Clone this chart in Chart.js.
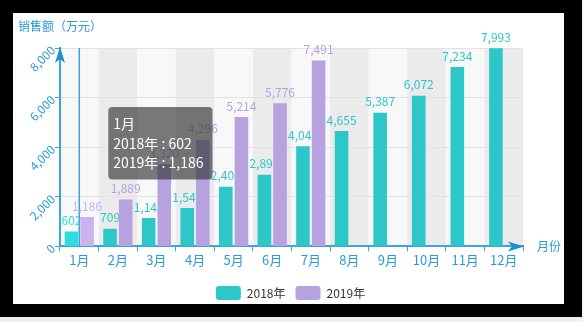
<!DOCTYPE html>
<html>
<head>
<meta charset="utf-8">
<script src="https://cdn.jsdelivr.net/npm/chart.js@4"></script>
<style>
  html, body { margin: 0; padding: 0; background: #f0f0f0; }
  #frame { position: absolute; left: 0; top: 0; width: 582px; height: 317px; background: #000; }
  #box { position: absolute; left: 13px; top: 13px; width: 551px; height: 291px; background: #fff; }
  canvas { display: block; }
</style>
</head>
<body>
<div id="frame"><div id="box"><canvas id="chart" width="551" height="291"></canvas></div></div>
<script>
const months = ['1月', '2月', '3月', '4月', '5月', '6月', '7月', '8月', '9月', '10月', '11月', '12月'];
const sales2018 = [602, 709, 1145, 1547, 2404, 2891, 4043, 4655, 5387, 6072, 7234, 7993];
const sales2019 = [1186, 1889, 3320, 4296, 5214, 5776, 7491, null, null, null, null, null];
const yTicks = [0, 2000, 4000, 6000, 8000];

const blue = '#2a9ad9';
const axisLine = '#3ea3de';
Chart.defaults.font.family = '"Microsoft YaHei", "Noto Sans CJK SC", sans-serif';

// striped background, one band per month
const bands = {
  id: 'bands',
  beforeDraw(chart) {
    const { ctx, chartArea: a, scales: { x } } = chart;
    const w = (a.right - a.left) / months.length;
    ctx.save();
    months.forEach((m, i) => {
      const cx = x.getPixelForValue(i);
      ctx.fillStyle = i % 2 ? '#ebebeb' : '#f8f8f8';
      ctx.fillRect(cx - w / 2, a.top, w, a.bottom - a.top);
    });
    ctx.restore();
  }
};

function drawValues(chart, dsIndex) {
  const { ctx } = chart;
  const ds = chart.data.datasets[dsIndex];
  const meta = chart.getDatasetMeta(dsIndex);
  const hot = chart.getActiveElements().map(e => e.index);
  ctx.save();
  ctx.font = '12px ' + Chart.defaults.font.family;
  ctx.textAlign = 'center';
  ctx.textBaseline = 'bottom';
  meta.data.forEach((bar, i) => {
    const v = ds.data[i];
    if (v == null) return;
    ctx.fillStyle = hot.includes(i) ? ds.hoverBackgroundColor : ds.backgroundColor;
    ctx.fillText(v.toLocaleString('en-US'), bar.x, bar.y - 5);
  });
  ctx.restore();
}

// value text above the bars: 2018 sits under the 2019 bars, 2019 on top
const valueLabels = {
  id: 'valueLabels',
  beforeDatasetsDraw(chart) { drawValues(chart, 0); },
  afterDatasetsDraw(chart) { drawValues(chart, 1); }
};

// legend centred on the whole canvas rather than the padded area
const legendCenter = {
  id: 'legendCenter',
  afterLayout(chart) {
    const lg = chart.legend;
    const shift = chart.width / 2 + 2 - (lg.left + lg.right) / 2;
    lg.left += shift;
    lg.right += shift;
  }
};

// axis pointer, arrow heads and axis names
const axisDecor = {
  id: 'axisDecor',
  beforeDatasetsDraw(chart) {
    const { ctx, chartArea: a, scales: { x } } = chart;
    const act = chart.getActiveElements();
    if (!act.length) return;
    const px = x.getPixelForValue(act[0].index);
    ctx.save();
    ctx.strokeStyle = axisLine;
    ctx.lineWidth = 1.5;
    ctx.beginPath();
    ctx.moveTo(px, a.top);
    ctx.lineTo(px, a.bottom);
    ctx.stroke();
    ctx.restore();
  },
  afterDatasetsDraw(chart) {
    const { ctx, chartArea: a } = chart;
    ctx.save();
    ctx.fillStyle = '#1a8fd3';
    // y arrow
    ctx.beginPath();
    ctx.moveTo(a.left, a.top - 1);
    ctx.lineTo(a.left + 5, a.top + 15);
    ctx.lineTo(a.left, a.top + 11);
    ctx.lineTo(a.left - 5, a.top + 15);
    ctx.closePath();
    ctx.fill();
    // x arrow
    ctx.beginPath();
    ctx.moveTo(a.right + 1, a.bottom);
    ctx.lineTo(a.right - 15, a.bottom - 5);
    ctx.lineTo(a.right - 11, a.bottom);
    ctx.lineTo(a.right - 15, a.bottom + 5);
    ctx.closePath();
    ctx.fill();

    ctx.fillStyle = blue;
    ctx.font = '12px ' + Chart.defaults.font.family;
    ctx.textBaseline = 'middle';
    ctx.textAlign = 'center';
    ctx.fillText('销售额（万元）', a.left, a.top - 22);
    ctx.textAlign = 'left';
    ctx.fillText('月份', a.right + 14, a.bottom);
    ctx.restore();
  }
};

Chart.Tooltip.positioners.beside = function (items) {
  if (!items.length) return false;
  const { chartArea: a, scales: { x } } = this.chart;
  return { x: x.getPixelForValue(items[0].index) + 33, y: a.top + 59 };
};

const chart = new Chart(document.getElementById('chart'), {
  type: 'bar',
  data: {
    labels: months,
    datasets: [
      {
        label: '2018年',
        data: sales2018,
        backgroundColor: '#2ec7c9',
        hoverBackgroundColor: '#33dcdc'
      },
      {
        label: '2019年',
        data: sales2019,
        backgroundColor: '#b6a2de',
        hoverBackgroundColor: '#c9b4f0'
      }
    ]
  },
  options: {
    responsive: false,
    animation: false,
    categoryPercentage: 0.81,
    barPercentage: 0.87,
    layout: { padding: { top: 35, left: 0, right: 41, bottom: -6 } },
    interaction: { mode: 'index', intersect: false },
    scales: {
      x: {
        grid: { drawOnChartArea: false, tickLength: 5, tickColor: axisLine, offset: true },
        border: { color: axisLine, width: 2 },
        ticks: { color: blue, font: { size: 13 }, padding: 1 },
        afterFit(s) { s.height = 29.6; }
      },
      y: {
        min: 0,
        max: 8000,
        afterBuildTicks(s) { s.ticks = yTicks.map(v => ({ value: v })); },
        grid: { color: '#e2e2e2', tickColor: axisLine, tickLength: 5 },
        border: { color: axisLine, width: 2 },
        ticks: { color: blue, font: { size: 12 }, minRotation: 45, maxRotation: 45, padding: 2 },
        afterFit(s) { s.width = 47; }
      }
    },
    plugins: {
      legend: {
        position: 'bottom',
        labels: {
          color: '#333',
          font: { size: 12 },
          boxWidth: 25,
          boxHeight: 14,
          useBorderRadius: true,
          borderRadius: 3,
          padding: 10
        }
      },
      tooltip: {
        mode: 'index',
        intersect: false,
        position: 'beside',
        xAlign: 'left',
        yAlign: 'top',
        backgroundColor: 'rgba(50,50,50,0.65)',
        cornerRadius: 4,
        caretSize: 0,
        caretPadding: 0,
        padding: { top: 8, bottom: 8, left: 5, right: 9 },
        titleColor: '#fff',
        bodyColor: '#fff',
        titleFont: { size: 14, weight: 'normal' },
        bodyFont: { size: 14 },
        titleMarginBottom: 3,
        bodySpacing: 3,
        displayColors: false,
        callbacks: {
          label: c => c.dataset.label + ' : ' + c.formattedValue
        }
      }
    }
  },
  plugins: [bands, valueLabels, legendCenter, axisDecor]
});

const hover = [{ datasetIndex: 0, index: 0 }, { datasetIndex: 1, index: 0 }];
chart.setActiveElements(hover);
chart.tooltip.setActiveElements(hover, { x: 0, y: 0 });
chart.update();
</script>
</body>
</html>
